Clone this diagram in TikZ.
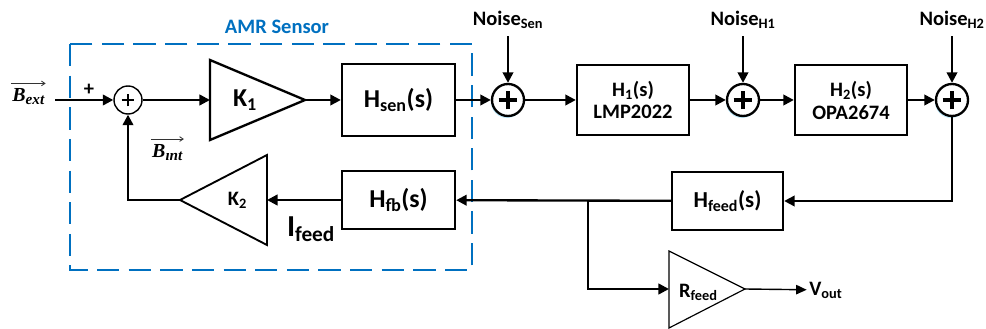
\documentclass[tikz,border=0pt]{standalone}
\usepackage{amsmath, amssymb}
\usepackage{fontspec}
\setmainfont{Carlito}
\newfontfamily\vecfont{Liberation Serif}
\usepackage{xcolor}
\usetikzlibrary{arrows.meta, shadows}

\definecolor{amrblue}{RGB}{0,112,192}

\newcommand{\fsz}[1]{\fontsize{#1}{#1}\selectfont\bfseries}
\newcommand{\bfield}[2]{{\vecfont\bfseries\itshape\fontsize{17pt}{17pt}\selectfont #1\raisebox{-3pt}{\fontsize{13pt}{13pt}\selectfont #2}}}

\begin{document}
\begin{tikzpicture}[
    wire/.style={line width=2pt, -{Triangle[length=9pt,width=9pt]}},
    thinwire/.style={line width=1.2pt, -{Triangle[length=9pt,width=8pt]}},
    vecarrow/.style={line width=0.7pt, black!80, -{Straight Barb[length=3pt,width=4pt]}},
    block/.style={draw, line width=2pt, inner sep=0pt, minimum width=3.39cm},
    bigsum/.style={circle, draw, fill=white, line width=2pt, minimum size=0.96cm, inner sep=0pt,
        drop shadow={shadow xshift=-0.03cm, shadow yshift=-0.06cm, fill=cyan!25, opacity=1},
        path picture={\draw[line width=3.2pt]
            ([xshift=-0.28cm]path picture bounding box.center) -- ([xshift=0.28cm]path picture bounding box.center)
            ([yshift=-0.28cm]path picture bounding box.center) -- ([yshift=0.28cm]path picture bounding box.center);}},
    smallsum/.style={circle, draw, line width=1.2pt, minimum size=0.84cm, inner sep=0pt,
        path picture={\draw[line width=1.2pt]
            ([xshift=-0.19cm]path picture bounding box.center) -- ([xshift=0.19cm]path picture bounding box.center)
            ([yshift=-0.19cm]path picture bounding box.center) -- ([yshift=0.19cm]path picture bounding box.center);}}
  ]
        \useasboundingbox (0,0) rectangle (29.58,9.87);

        % AMR sensor frame
        \draw[amrblue, line width=2.4pt, dash pattern=on 19pt off 8pt] (2.1,8.55) rectangle (14.16,1.77);
        \node[amrblue] (amr) at (8.31,9.06) {\fsz{17.5pt}AMR Sensor};

        % Define points of the triangles
        \coordinate (K1a) at (6.3, 8.07);    % K1 top-left
        \coordinate (K1b) at (6.3, 5.67);    % K1 bottom-left
        \coordinate (K1o) at (9.15, 6.87);   % K1 tip
        \coordinate (K1i) at (6.3, 6.87);    % K1 input
        \coordinate (K2a) at (8.01, 5.22);   % K2 top-right
        \coordinate (K2b) at (8.01, 2.52);   % K2 bottom-right
        \coordinate (K2o) at (5.4, 3.87);    % K2 tip
        \coordinate (K2i) at (8.01, 3.87);   % K2 input
        \coordinate (Ra) at (20.07, 2.34);   % Rfeed top-left
        \coordinate (Rb) at (20.07, 0.03);   % Rfeed bottom-left
        \coordinate (Ro) at (22.35, 1.2);    % Rfeed tip
        \coordinate (Ri) at (20.07, 1.2);    % Rfeed input

        % Other points
        \coordinate (Bin) at (1.65, 6.87);   % input start
        \coordinate (br) at (17.64, 3.87);   % branch to Rfeed

        % Summing points
        \node[smallsum] (S1) at (3.84, 6.87) {};
        \node[bigsum] (S2) at (15.24, 6.87) {};
        \node[bigsum] (S3) at (22.29, 6.87) {};
        \node[bigsum] (S4) at (28.56, 6.87) {};

        % Blocks
        \node[block, minimum height=2.16cm] (Hsen) at (11.955, 6.87) {\fsz{22pt}H\textsubscript{sen}(s)};
        \node[block, minimum height=1.74cm] (Hfb) at (11.955, 3.87) {\fsz{22pt}H\textsubscript{fb}(s)};
        \node[block, minimum width=3.36cm, minimum height=2.1cm, align=center] (H1) at (18.99, 6.87)
            {\fsz{17.5pt}H\textsubscript{1}(s)\\[4pt]\fsz{17.5pt}LMP2022};
        \node[block, minimum width=3.36cm, minimum height=2.1cm, align=center] (H2) at (25.53, 6.87)
            {\fsz{17.5pt}H\textsubscript{2}(s)\\[4pt]\fsz{17.5pt}OPA2674};
        \node[block, minimum width=3.33cm, minimum height=1.74cm] (Hfeed) at (21.825, 3.84) {\fsz{19.5pt}H\textsubscript{feed}(s)};

        % Draw the triangles
        \draw[line width=2pt, line join=miter] (K1a) -- (K1o) -- (K1b) -- cycle;
        \draw[line width=1.6pt, line join=miter] (K2a) -- (K2o) -- (K2b) -- cycle;
        \draw[line width=1pt] (Ra) -- (Ro) -- (Rb) -- cycle;
        \node (K1) at (7.35, 6.87) {\fsz{22pt}K\textsubscript{1}};
        \node (K2) at (7.12, 3.87) {\fsz{17.5pt}K\textsubscript{2}};
        \node (Rf) at (20.95, 1.1) {\fsz{17.5pt}R\textsubscript{feed}};

        % Noise inputs
        \node (nSen) at (15.24, 9.27) {\fsz{17.5pt}Noise\textsubscript{Sen}};
        \node (nH1) at (22.29, 9.27) {\fsz{17.5pt}Noise\textsubscript{H1}};
        \node (nH2) at (28.56, 9.27) {\fsz{17.5pt}Noise\textsubscript{H2}};

        % Labels
        \node[inner sep=1pt] (Bext) at (0.85, 6.97) {\bfield{B}{ext}};
        \node[inner sep=1pt] (Bint) at (5.02, 5.3) {\bfield{B}{ınt}};
        \draw[vecarrow] ([yshift=3pt]Bext.north west) -- ([yshift=3pt]Bext.north east);
        \draw[vecarrow] ([yshift=3pt]Bint.north west) -- ([yshift=3pt]Bint.north east);
        \node[inner sep=1pt] (plus) at (2.67, 7.17) {\fsz{17.5pt}+};
        \node (Ifeed) at (9.33, 3.0) {\fsz{26pt}I\textsubscript{feed}};
        \node[anchor=west, inner sep=2pt] (Vout) at (24.2, 1.17) {\fsz{17.5pt}V\textsubscript{out}};

        % Forward path
        \draw[wire] (Bin) -- (S1);
        \draw[wire] (S1) -- (K1i);
        \draw[wire] (K1o) -- (Hsen);
        \draw[wire] (Hsen) -- (S2);
        \draw[wire] (S2) -- (H1);
        \draw[wire] (H1) -- (S3);
        \draw[wire] (S3) -- (H2);
        \draw[wire] (H2) -- (S4);
        \draw[wire] (nSen.south) ++(0,-0.1) -- (S2);
        \draw[wire] (nH1.south) ++(0,-0.1) -- (S3);
        \draw[wire] (nH2.south) ++(0,-0.1) -- (S4);

        % Feedback path
        \draw[wire] (S4) |- (Hfeed);
        \draw[wire] (Hfeed) -- (Hfb);
        \draw[wire] (Hfb) -- (K2i);
        \draw[wire] (K2o) -| (S1);
        \draw[wire] (br) |- (Ri);
        \draw[thinwire] (Ro) -- (Vout);

    \end{tikzpicture}
\end{document}
